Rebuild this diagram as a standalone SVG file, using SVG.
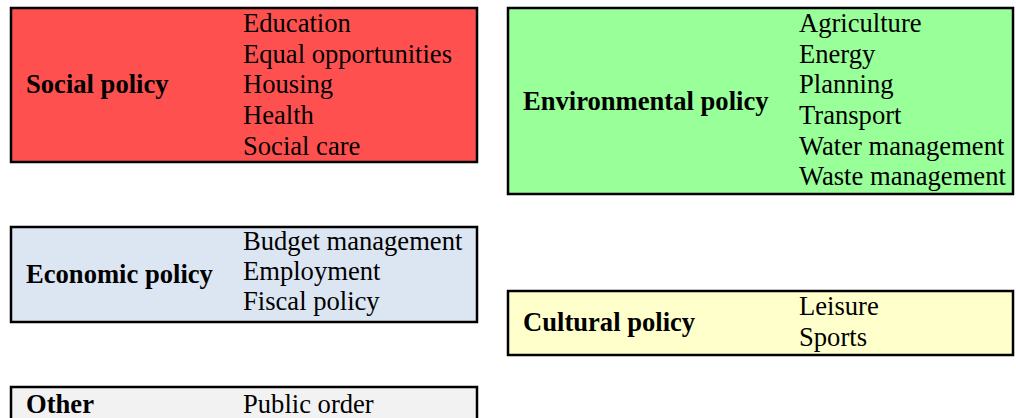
<svg xmlns="http://www.w3.org/2000/svg" width="1016" height="418" viewBox="0 0 1016 418">
<style>
.box{stroke:#000;stroke-width:2.5}
text{font-family:"Liberation Serif","Times New Roman",serif;font-size:26.6px;fill:#000}
.lbl{font-weight:bold}
</style>
<rect width="1016" height="418" fill="#fff"/>
<g id="social">
<rect class="box" x="11" y="8" width="466" height="154" fill="#FF5050"/>
<text class="lbl" x="26" y="93">Social policy</text>
<text x="243" y="32">Education</text>
<text x="243" y="63">Equal opportunities</text>
<text x="243" y="93">Housing</text>
<text x="243" y="124">Health</text>
<text x="243" y="155">Social care</text>
</g>
<g id="environmental">
<rect class="box" x="508" y="8" width="505" height="186" fill="#99FF99"/>
<text class="lbl" x="523" y="110">Environmental policy</text>
<text x="799" y="32">Agriculture</text>
<text x="799" y="63">Energy</text>
<text x="799" y="93">Planning</text>
<text x="799" y="124">Transport</text>
<text x="799" y="155">Water management</text>
<text x="799" y="185">Waste management</text>
</g>
<g id="economic">
<rect class="box" x="11" y="227" width="466" height="95" fill="#DCE6F2"/>
<text class="lbl" x="26" y="283">Economic policy</text>
<text x="243" y="250">Budget management</text>
<text x="243" y="280">Employment</text>
<text x="243" y="310">Fiscal policy</text>
</g>
<g id="cultural">
<rect class="box" x="508" y="291" width="505" height="64" fill="#FFFFCC"/>
<text class="lbl" x="523" y="331">Cultural policy</text>
<text x="799" y="315">Leisure</text>
<text x="799" y="346">Sports</text>
</g>
<g id="other">
<rect class="box" x="11" y="387" width="466" height="40" fill="#F2F2F2"/>
<text class="lbl" x="26" y="413">Other</text>
<text x="243" y="413">Public order</text>
</g>
<g id="connectors"></g>
</svg>
